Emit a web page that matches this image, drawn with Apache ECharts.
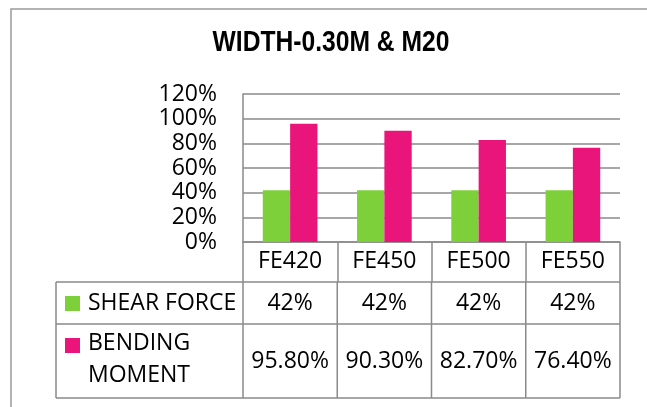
<!DOCTYPE html>
<html>
<head>
<meta charset="utf-8">
<script src="https://cdn.jsdelivr.net/npm/echarts@6/dist/echarts.min.js"></script>
<style>
  html, body { margin: 0; padding: 0; background: #fff; }
  #chart { width: 647px; height: 407px; }
</style>
</head>
<body>
<div id="chart"></div>
<script>
// data
var categories = ["FE420", "FE450", "FE500", "FE550"];
var seriesNames = ["SHEAR FORCE", "BENDING MOMENT"];
var shearForce = [42, 42, 42, 42];
var bendingMoment = [95.8, 90.3, 82.7, 76.4];
var yTicks = [0, 20, 40, 60, 80, 100, 120];
var titleText = "WIDTH-0.30M & M20";

var colors = ["#7ed03b", "#ea157a"];
var gray = "#8a8a8a";
var labelFont = "Open Sans";

var chart = echarts.init(document.getElementById("chart"));

var option = {
    animation: false,
    color: colors,
    grid: { left: 243, right: 27, top: 94, bottom: 165 },
    xAxis: {
        type: "category",
        data: categories,
        axisLine: { lineStyle: { color: gray, width: 1.5 } },
        axisTick: { show: true, interval: 0, length: 40, lineStyle: { color: gray, width: 1.5 } },
        axisLabel: {
            interval: 0,
            margin: 19,
            verticalAlign: "middle",
            fontFamily: labelFont,
            fontSize: 23,
            color: "#000"
        }
    },
    yAxis: {
        type: "value",
        min: yTicks[0],
        max: yTicks[yTicks.length - 1],
        interval: yTicks[1] - yTicks[0],
        axisLine: { show: true, lineStyle: { color: gray, width: 1.5 } },
        axisTick: { show: false },
        splitLine: { lineStyle: { color: gray, width: 1.5 } },
        axisLabel: {
            margin: 26,
            fontFamily: labelFont,
            fontSize: 23,
            color: "#000",
            formatter: function (v) { return v + "%"; }
        }
    },
    series: [
        {
            name: seriesNames[0],
            type: "bar",
            data: shearForce,
            barGap: "0%",
            barCategoryGap: "42%"
        },
        {
            name: seriesNames[1],
            type: "bar",
            data: bendingMoment,
            barGap: "0%",
            barCategoryGap: "42%"
        }
    ]
};
chart.setOption(option);

// title (narrow bold face squeezed from Liberation Sans) + data table under the axis
function buildTable() {
    var rows = [shearForce, bendingMoment];
    var decimals = [0, 2];
    var cx = categories.map(function (c, i) {
        return chart.convertToPixel({ xAxisIndex: 0 }, i);
    });
    var step = cx[1] - cx[0];
    var xL = cx[0] - step / 2;
    var xR = cx[cx.length - 1] + step / 2;
    var y0 = chart.convertToPixel({ yAxisIndex: 0 }, 0);
    var rowTop = [y0 + 40, y0 + 82];
    var rowBot = [y0 + 82, y0 + 156];
    var legendLeft = 56;
    var els = [];
    var line = function (x1, y1, x2, y2) {
        els.push({
            type: "line",
            shape: { x1: x1, y1: y1, x2: x2, y2: y2 },
            style: { stroke: gray, lineWidth: 1.5 },
            silent: true
        });
    };

    els.push({
        type: "text",
        x: 331,
        y: 43,
        scaleX: 0.85,
        style: {
            text: titleText,
            fontFamily: "Liberation Sans",
            fontWeight: "bold",
            fontSize: 29,
            fill: "#000",
            align: "center",
            verticalAlign: "middle"
        },
        silent: true
    });

    // outer chart frame (cut off by the picture on the right and bottom)
    els.push({
        type: "rect",
        shape: { x: 11, y: 9, width: 700, height: 500 },
        style: { fill: null, stroke: "#9a9a9a", lineWidth: 1.5 },
        silent: true,
        z: -1
    });

    rowBot.forEach(function (y) { line(legendLeft, y, xR, y); });
    line(legendLeft, rowTop[0], xR, rowTop[0]);
    line(legendLeft, rowTop[0], legendLeft, rowBot[1]);
    for (var k = 0; k <= categories.length; k++) {
        var x = xL + k * step;
        line(x, rowTop[0], x, rowBot[1]);
    }

    rows.forEach(function (vals, r) {
        var midY = (rowTop[r] + rowBot[r]) / 2;
        els.push({
            type: "rect",
            shape: { x: 65, y: rowTop[r] + 14, width: 15, height: 15 },
            style: { fill: colors[r] },
            silent: true
        });
        els.push({
            type: "text",
            x: 88,
            y: r === 0 ? midY : midY - 2,
            style: {
                text: seriesNames[r],
                width: 150,
                overflow: "break",
                lineHeight: 32,
                fontFamily: labelFont,
                fontSize: 23,
                fill: "#000",
                verticalAlign: "middle",
                align: "left"
            },
            silent: true
        });
        vals.forEach(function (v, i) {
            els.push({
                type: "text",
                x: cx[i],
                y: midY,
                style: {
                    text: v.toFixed(decimals[r]) + "%",
                    fontFamily: labelFont,
                    fontSize: 23,
                    fill: "#000",
                    align: "center",
                    verticalAlign: "middle"
                },
                silent: true
            });
        });
    });
    chart.setOption({ graphic: { elements: els } });
}
buildTable();
</script>
</body>
</html>
